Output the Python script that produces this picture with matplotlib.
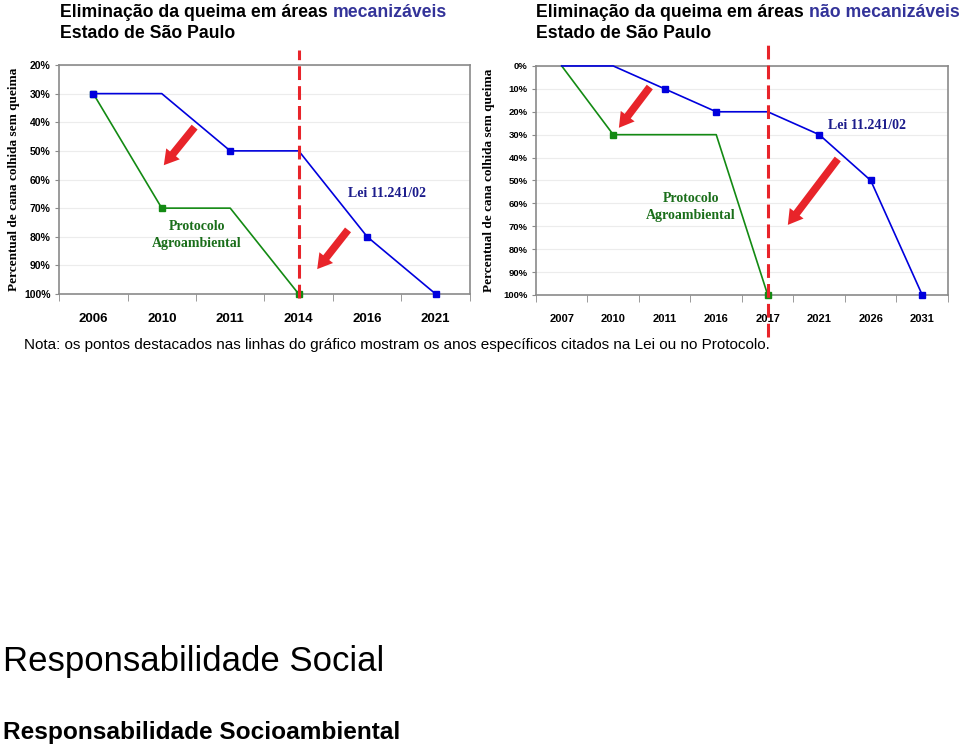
import matplotlib
matplotlib.use('Agg')
import matplotlib.pyplot as plt
from matplotlib.ticker import FixedLocator

# --- dados ---
anos_mec = ['2006', '2010', '2011', '2014', '2016', '2021']
lei_mec = [30, 30, 50, 50, 80, 100]
lei_mec_marcados = [0, 2, 4, 5]
prot_mec = [30, 70, 70, 100]
prot_mec_marcados = [0, 1, 3]
corte_mec = 3

anos_nmec = ['2007', '2010', '2011', '2016', '2017', '2021', '2026', '2031']
lei_nmec = [0, 0, 10, 20, 20, 30, 50, 100]
lei_nmec_marcados = [2, 3, 5, 6, 7]
prot_nmec = [0, 30, 30, 30, 100]
prot_nmec_marcados = [1, 4]
corte_nmec = 4

ylabel = 'Percentual de cana colhida sem queima'
nota = ('Nota: os pontos destacados nas linhas do gráfico mostram os anos '
        'específicos citados na Lei ou no Protocolo.')

AZUL = '#0000dd'
VERDE = '#138a13'
AZUL_TXT = '#1c1c8c'
VERDE_TXT = '#1a6e1a'
VERMELHO = '#e8242a'
CINZA = '#8a8a8a'

fig = plt.figure(figsize=(9.6, 7.47), dpi=100)


def monta_eixo(ax, anos, ymin, fs_x, fs_y):
    n = len(anos)
    ax.set_xlim(-0.5, n - 0.5)
    ax.set_ylim(100, ymin)
    ax.set_yticks(range(ymin, 101, 10))
    ax.set_yticklabels(['%d%%' % v for v in range(ymin, 101, 10)],
                       fontsize=fs_y, fontweight='bold', family='Liberation Sans')
    ax.set_xticks(range(n))
    ax.set_xticklabels(anos, fontsize=fs_x, fontweight='bold', family='Liberation Sans')
    ax.xaxis.set_minor_locator(FixedLocator([i - 0.5 for i in range(n + 1)]))
    ax.tick_params(axis='x', which='major', length=0, pad=14)
    ax.tick_params(axis='x', which='minor', length=5, direction='out', color=CINZA)
    ax.tick_params(axis='y', length=3, color=CINZA, pad=3)
    for s in ax.spines.values():
        s.set_color(CINZA)
        s.set_linewidth(1.2)
    ax.grid(axis='y', color='#ececec', linewidth=0.8)
    ax.set_axisbelow(True)
    ax.set_ylabel(ylabel, fontsize=9.5, fontweight='bold', family='Liberation Serif')


def seta(ax, x0, y0, x1, y1):
    ax.annotate('', xy=(x1, y1), xytext=(x0, y0),
                arrowprops=dict(arrowstyle='simple,head_width=1.25,head_length=1.05,tail_width=0.55',
                                color=VERMELHO, lw=0, shrinkA=0, shrinkB=0))


# --- grafico 1: areas mecanizaveis ---
ax1 = fig.add_axes([0.0615, 0.6064, 0.428, 0.3066])
monta_eixo(ax1, anos_mec, 20, 9.5, 7.5)
ax1.plot(range(len(prot_mec)), prot_mec, color=VERDE, lw=1.2, marker='s', ms=5,
         markevery=prot_mec_marcados, zorder=3, clip_on=False)
ax1.plot(range(len(lei_mec)), lei_mec, color=AZUL, lw=1.2, marker='s', ms=5,
         markevery=lei_mec_marcados, zorder=3, clip_on=False)
ax1.axvline(corte_mec, ymin=-0.017, ymax=1.066, color=VERMELHO, lw=2.2,
            dashes=(4.5, 2), clip_on=False, zorder=4)
seta(ax1, 1.48, 41.7, 1.03, 55)
seta(ax1, 3.72, 77.6, 3.27, 91.3)
ax1.text(4.29, 65, 'Lei 11.241/02', color=AZUL_TXT, fontsize=10, fontweight='bold',
         family='Liberation Serif', ha='center', va='center')
ax1.text(1.51, 79.4, 'Protocolo\nAgroambiental', color=VERDE_TXT, fontsize=10,
         fontweight='bold', family='Liberation Serif', ha='center', va='center',
         linespacing=1.45)
ax1.yaxis.set_label_coords(-0.095, 0.5)

# --- grafico 2: areas nao mecanizaveis ---
ax2 = fig.add_axes([0.5583, 0.6051, 0.4292, 0.3066])
monta_eixo(ax2, anos_nmec, 0, 8, 6.8)
ax2.plot(range(len(prot_nmec)), prot_nmec, color=VERDE, lw=1.2, marker='s', ms=5,
         markevery=prot_nmec_marcados, zorder=3, clip_on=False)
ax2.plot(range(len(lei_nmec)), lei_nmec, color=AZUL, lw=1.2, marker='s', ms=5,
         markevery=lei_nmec_marcados, zorder=3, clip_on=False)
ax2.axvline(corte_nmec, ymin=-0.183, ymax=1.105, color=VERMELHO, lw=2.2,
            dashes=(4.5, 2), clip_on=False, zorder=4)
seta(ax2, 1.71, 9.2, 1.11, 27)
seta(ax2, 5.36, 40.6, 4.39, 69.4)
ax2.text(5.93, 26.2, 'Lei 11.241/02', color=AZUL_TXT, fontsize=10, fontweight='bold',
         family='Liberation Serif', ha='center', va='center')
ax2.text(2.51, 61.6, 'Protocolo\nAgroambiental', color=VERDE_TXT, fontsize=10,
         fontweight='bold', family='Liberation Serif', ha='center', va='center',
         linespacing=1.45)
ax2.yaxis.set_label_coords(-0.0995, 0.5)


# --- titulos com duas cores ---
def titulo(x, y, parte1, parte2):
    t = fig.text(x, y, parte1, fontsize=12.7, fontweight='bold', family='Liberation Sans',
                 color='black', va='baseline')
    fig.canvas.draw()
    bb = t.get_window_extent()
    fig.text(bb.x1 / fig.bbox.width, y, parte2, fontsize=12.7, fontweight='bold',
             family='Liberation Sans', color='#333399', va='baseline')


titulo(60 / 960, 1 - 17 / 747, 'Eliminação da queima em áreas ', 'mecanizáveis')
fig.text(60 / 960, 1 - 38 / 747, 'Estado de São Paulo', fontsize=12.7, fontweight='bold',
         family='Liberation Sans', va='baseline')
titulo(536 / 960, 1 - 17 / 747, 'Eliminação da queima em áreas ', 'não mecanizáveis')
fig.text(536 / 960, 1 - 38 / 747, 'Estado de São Paulo', fontsize=12.7, fontweight='bold',
         family='Liberation Sans', va='baseline')

fig.text(24 / 960, 1 - 345 / 747, nota, fontsize=11, va='center',
         family=['Liberation Sans Narrow', 'Liberation Sans'])

fig.text(3 / 960, 1 - 661 / 747, 'Responsabilidade Social', fontsize=25,
         family='Liberation Sans', va='center')
fig.text(3 / 960, 1 - 733 / 747, 'Responsabilidade Socioambiental', fontsize=17.6,
         fontweight='bold', family='Liberation Sans', va='center')

fig.savefig('out.png', dpi=100)
